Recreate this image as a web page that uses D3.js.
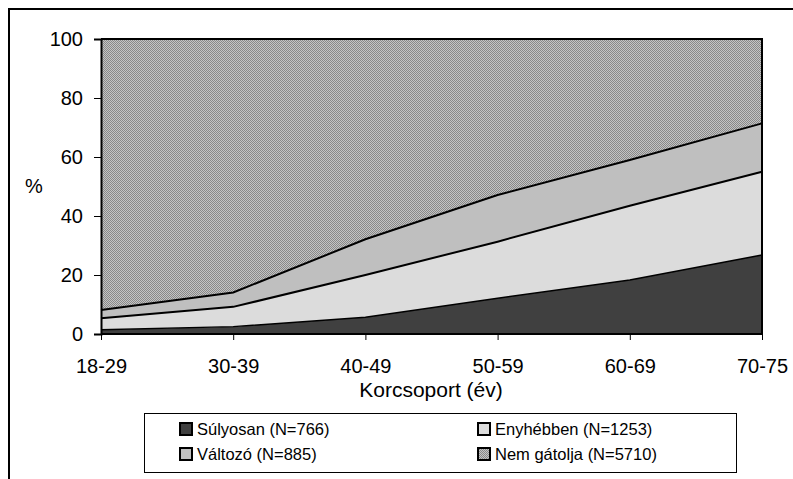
<!DOCTYPE html>
<html>
<head>
<meta charset="utf-8">
<script src="https://cdn.jsdelivr.net/npm/d3@7"></script>
<style>
  body { margin: 0; background: #fff; }
  text { font-family: "Liberation Sans", Arial, sans-serif; fill: #000; }
</style>
</head>
<body>
<svg id="chart" width="793" height="479"></svg>
<script>
// age groups and share (%) of each answer
var groups = ["18-29", "30-39", "40-49", "50-59", "60-69", "70-75"];
var sulyosan = [1.4, 2.5, 5.7, 12.1, 18.3, 26.8];
var enyhebben = [3.9, 6.7, 14.3, 19.2, 25.2, 28.2];
var valtozo = [2.8, 4.9, 12.1, 15.8, 15.5, 16.4];
var nemGatolja = [91.9, 85.9, 67.9, 52.9, 41.0, 28.6];
var seriesNames = ["Súlyosan (N=766)", "Enyhébben (N=1253)", "Változó (N=885)", "Nem gátolja (N=5710)"];
var yTicks = [0, 20, 40, 60, 80, 100];

(function() {
  var svg = d3.select("#chart");
  var left = 101, right = 762, top = 39, bottom = 334;

  var defs = svg.append("defs");
  var pat = defs.append("pattern")
      .attr("id", "dots")
      .attr("width", 2).attr("height", 2)
      .attr("patternUnits", "userSpaceOnUse");
  pat.append("rect").attr("width", 2).attr("height", 2).attr("fill", "#c4c4c4");
  pat.append("rect").attr("width", 1).attr("height", 1).attr("fill", "#888");
  pat.append("rect").attr("x", 1).attr("y", 1).attr("width", 1).attr("height", 1).attr("fill", "#888");

  var fills = ["#404040", "#dcdcdc", "#bfbfbf", "url(#dots)"];

  // outer frame
  svg.append("rect")
    .attr("x", 9).attr("y", 9).attr("width", 800).attr("height", 500)
    .attr("fill", "none").attr("stroke", "#000").attr("stroke-width", 2);

  var x = d3.scalePoint().domain(groups).range([left, right]);
  var y = d3.scaleLinear().domain([0, 100]).range([bottom, top]);

  var table = groups.map(function(g, i) {
    return { group: g, s: sulyosan[i], e: enyhebben[i], v: valtozo[i], n: nemGatolja[i] };
  });
  var stack = d3.stack().keys(["s", "e", "v", "n"]);
  var layers = stack(table);

  var area = d3.area()
      .x(function(d) { return x(d.data.group); })
      .y0(function(d) { return y(d[0]); })
      .y1(function(d) { return y(Math.min(d[1], 100)); });

  svg.selectAll(".layer")
    .data(layers)
    .enter().append("path")
    .attr("class", "layer")
    .attr("fill", function(d, i) { return fills[i]; })
    .attr("d", area);

  var line = d3.line()
      .x(function(d) { return x(d.data.group); })
      .y(function(d) { return y(Math.min(d[1], 100)); });

  svg.selectAll(".edge")
    .data(layers.slice(0, 3))
    .enter().append("path")
    .attr("class", "edge")
    .attr("fill", "none")
    .attr("stroke", "#000")
    .attr("stroke-width", function(d, i) { return i === 0 ? 1.5 : 2; })
    .attr("d", line);

  // plot border top and right
  svg.append("path")
    .attr("d", "M" + left + "," + y(100) + "H" + right + "V" + bottom)
    .attr("fill", "none").attr("stroke", "#000").attr("stroke-width", 2);

  var yAxis = svg.append("g")
    .attr("transform", "translate(" + left + ",0)")
    .call(d3.axisLeft(y).tickValues(yTicks).tickSize(7).tickPadding(11));
  var xAxis = svg.append("g")
    .attr("transform", "translate(0," + bottom + ")")
    .call(d3.axisBottom(x).tickSize(6).tickPadding(19));

  [yAxis, xAxis].forEach(function(a) {
    a.select(".domain").attr("stroke", "#000").attr("stroke-width", 2);
    a.selectAll(".tick line").attr("stroke", "#000");
    a.selectAll("text").style("font-size", "20px").attr("fill", "#000");
  });
  xAxis.select(".domain").attr("d", "M" + left + ",0H" + right);

  svg.append("text")
    .attr("x", 34).attr("y", 193)
    .attr("text-anchor", "middle")
    .style("font-size", "20px")
    .text("%");

  svg.append("text")
    .attr("x", 431).attr("y", 397)
    .attr("text-anchor", "middle")
    .style("font-size", "21px")
    .text("Korcsoport (év)");

  // legend
  var lg = svg.append("g");
  lg.append("rect")
    .attr("x", 144.5).attr("y", 413.5).attr("width", 592).attr("height", 59)
    .attr("fill", "#fff").attr("stroke", "#000").attr("stroke-width", 1);

  var pos = [[179, 422], [477, 422], [179, 447], [477, 447]];
  var item = lg.selectAll(".item")
    .data(seriesNames)
    .enter().append("g")
    .attr("class", "item")
    .attr("transform", function(d, i) { return "translate(" + pos[i][0] + "," + pos[i][1] + ")"; });
  item.append("rect")
    .attr("x", 1).attr("y", 1).attr("width", 12).attr("height", 12)
    .attr("fill", function(d, i) { return fills[i]; })
    .attr("stroke", "#000").attr("stroke-width", 2);
  item.append("text")
    .attr("x", 18).attr("y", 13)
    .style("font-size", "16.5px")
    .text(function(d) { return d; });
})();
</script>
</body>
</html>
